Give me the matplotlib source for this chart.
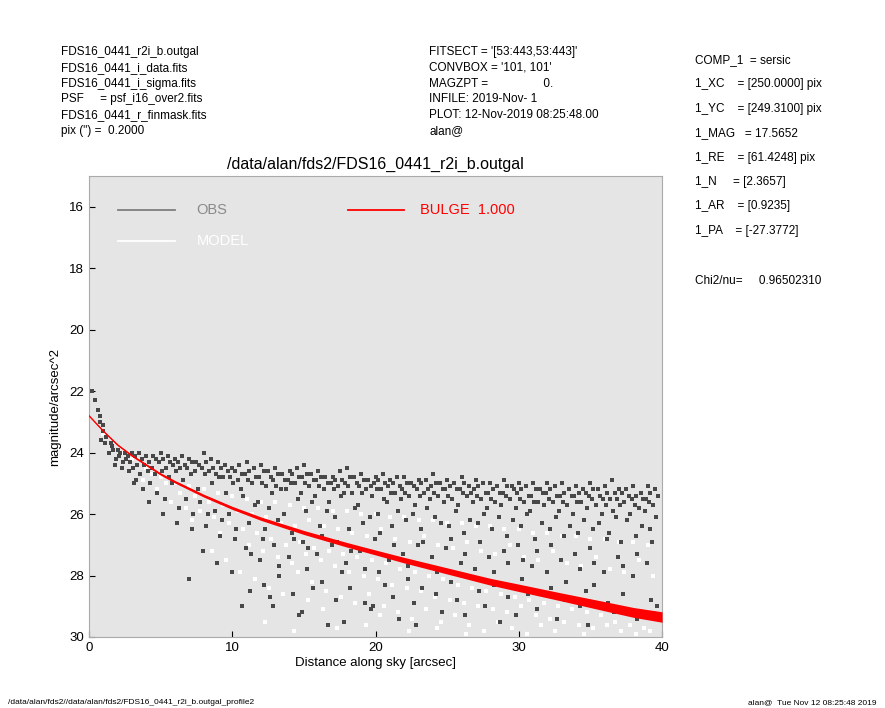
import matplotlib
matplotlib.use("Agg")
import matplotlib.pyplot as plt
import numpy as np

plt.rcParams['font.family'] = ['Liberation Sans', 'DejaVu Sans']

# Bulge (model component) profile: radius [arcsec], centre mag, half-thickness of band
bulge_r = [0, 1, 2, 3, 4, 5, 6, 8, 10, 12, 15, 18, 20, 22, 25, 28, 30, 33, 36, 38, 40]
bulge_mag = [22.8, 23.3, 23.75, 24.1, 24.4, 24.7, 24.95, 25.4, 25.8, 26.15, 26.6, 27.0,
             27.25, 27.5, 27.85, 28.2, 28.4, 28.7, 29.0, 29.2, 29.35]
bulge_hw = [0.01, 0.015, 0.02, 0.025, 0.03, 0.035, 0.04, 0.045, 0.05, 0.055, 0.065, 0.075,
            0.08, 0.09, 0.1, 0.11, 0.12, 0.13, 0.15, 0.16, 0.17]

# OBS points, grouped by radius
obs = {
    0.2: [22.0], 0.4: [22.3], 0.6: [22.6, 22.8], 0.8: [23.0, 23.1],
    1.0: [23.3, 23.5, 23.6, 23.7], 1.5: [23.7, 23.9, 24.0, 23.8],
    2.0: [23.9, 24.0, 24.2, 24.1, 24.4], 2.5: [24.0, 24.1, 24.3, 24.2, 24.5],
    3.0: [24.0, 24.1, 24.3, 24.5, 24.6, 25.0], 3.5: [24.0, 24.2, 24.4, 24.7, 24.9],
    4.0: [24.1, 24.3, 24.4, 24.6, 25.2, 25.6], 4.5: [24.1, 24.2, 24.5, 24.7, 25.0],
    5.0: [24.0, 24.2, 24.3, 24.6, 25.3, 26.0], 5.5: [24.1, 24.3, 24.5, 24.8, 25.5],
    6.0: [24.2, 24.3, 24.4, 24.6, 25.0, 26.3], 6.5: [24.1, 24.4, 24.5, 24.9, 25.8],
    7.0: [24.2, 24.3, 24.5, 24.7, 25.5, 26.5, 28.1], 7.5: [24.3, 24.4, 24.6, 25.2, 26.0],
    8.0: [24.0, 24.3, 24.5, 24.7, 25.6, 26.4, 27.2], 8.5: [24.2, 24.5, 24.6, 25.0, 26.0],
    9.0: [24.3, 24.5, 24.7, 24.8, 25.9, 26.7, 27.6], 9.5: [24.4, 24.6, 24.8, 25.3, 26.2],
    10.0: [24.5, 24.6, 24.8, 25.0, 26.0, 26.8, 27.9],
    10.5: [24.4, 24.7, 24.9, 25.2, 26.5, 29.0],
    11.0: [24.3, 24.6, 24.7, 24.9, 25.4, 26.3, 27.1, 28.5],
    11.5: [24.5, 24.8, 25.0, 25.7, 27.3],
    12.0: [24.4, 24.6, 24.8, 25.0, 25.6, 26.8, 27.5, 28.3],
    12.5: [24.6, 24.8, 25.1, 25.8, 26.5, 28.7],
    13.0: [24.5, 24.7, 24.9, 25.1, 25.3, 26.2, 27.0, 28.0, 29.0],
    13.5: [24.7, 24.9, 25.2, 26.0, 27.7],
    14.0: [24.6, 24.7, 24.9, 25.0, 25.2, 26.6, 27.4, 28.6],
    14.5: [24.5, 24.8, 25.0, 25.5, 26.8, 29.3],
    15.0: [24.4, 24.7, 24.8, 25.0, 25.3, 25.9, 26.9, 27.8, 29.2],
    15.5: [24.7, 24.9, 25.1, 25.6, 27.1, 28.4],
    16.0: [24.6, 24.8, 24.9, 25.1, 25.4, 26.4, 27.3, 28.2],
    16.5: [24.8, 25.0, 25.2, 25.9, 26.7, 29.6],
    17.0: [24.8, 24.9, 25.0, 25.2, 25.6, 26.1, 27.0, 28.8],
    17.5: [24.6, 24.9, 25.1, 25.4, 26.9, 27.9],
    18.0: [24.5, 24.8, 25.0, 25.1, 25.3, 26.5, 27.6, 28.4, 29.5],
    18.5: [24.8, 25.0, 25.3, 25.8, 27.2],
    19.0: [24.7, 24.9, 25.1, 25.3, 25.7, 26.3, 27.2, 28.9],
    19.5: [24.9, 25.1, 25.2, 26.1, 27.8, 29.1],
    20.0: [24.8, 24.9, 25.0, 25.2, 25.4, 26.0, 26.8, 27.9, 29.0],
    20.5: [24.7, 25.0, 25.2, 25.5, 26.6, 28.3],
    21.0: [24.9, 25.0, 25.1, 25.3, 25.6, 26.4, 27.5, 28.7],
    21.5: [24.8, 25.1, 25.3, 25.9, 27.0, 29.4],
    22.0: [24.8, 25.0, 25.2, 25.3, 25.5, 26.2, 27.3, 28.1],
    22.5: [25.0, 25.1, 25.4, 26.0, 27.7, 28.9],
    23.0: [24.9, 25.0, 25.2, 25.4, 25.7, 26.5, 27.0, 28.4, 29.6],
    23.5: [24.9, 25.2, 25.3, 25.8, 26.9],
    24.0: [24.7, 25.0, 25.1, 25.3, 25.5, 26.1, 27.4, 28.6],
    24.5: [25.0, 25.2, 25.4, 26.3, 27.9, 29.2],
    25.0: [24.9, 25.1, 25.2, 25.4, 25.6, 26.4, 27.1, 28.2],
    25.5: [25.0, 25.2, 25.5, 25.9, 26.8, 28.8],
    26.0: [24.8, 25.0, 25.2, 25.3, 25.7, 26.6, 27.6, 29.3],
    26.5: [25.1, 25.3, 25.4, 26.2, 27.3],
    27.0: [24.9, 25.1, 25.2, 25.4, 25.6, 26.3, 27.8, 28.5],
    27.5: [25.0, 25.3, 25.5, 26.0, 26.9, 29.0],
    28.0: [25.0, 25.2, 25.3, 25.5, 25.8, 26.5, 27.4, 28.3],
    28.5: [25.1, 25.3, 25.6, 26.1, 27.9, 29.5],
    29.0: [24.9, 25.1, 25.3, 25.4, 25.7, 26.7, 27.2, 28.7],
    29.5: [25.1, 25.2, 25.5, 26.2, 27.6],
    30.0: [25.0, 25.2, 25.3, 25.5, 25.8, 26.4, 27.0, 28.1, 29.3],
    30.5: [25.1, 25.4, 25.6, 26.0, 27.5, 28.6],
    31.0: [25.0, 25.2, 25.4, 25.6, 25.9, 26.8, 27.7, 29.1],
    31.5: [25.2, 25.3, 25.6, 26.3, 27.2],
    32.0: [25.0, 25.2, 25.3, 25.5, 25.7, 26.5, 27.9, 28.4],
    32.5: [25.1, 25.4, 25.6, 26.1, 27.0, 29.4],
    33.0: [25.0, 25.3, 25.4, 25.6, 25.9, 26.7, 27.5, 28.8],
    33.5: [25.2, 25.4, 25.7, 26.4, 28.2],
    34.0: [25.1, 25.3, 25.4, 25.6, 26.0, 26.6, 27.3, 29.0],
    34.5: [25.2, 25.3, 25.6, 26.2, 27.8, 28.5],
    35.0: [25.0, 25.2, 25.4, 25.5, 25.8, 26.5, 27.1, 28.3, 29.6],
    35.5: [25.2, 25.4, 25.7, 26.3, 27.6],
    36.0: [25.1, 25.3, 25.5, 25.7, 26.0, 26.8, 27.9, 28.9],
    36.5: [24.9, 25.3, 25.5, 25.9, 26.6, 29.2],
    37.0: [25.2, 25.3, 25.5, 25.7, 26.1, 26.9, 27.4, 28.6],
    37.5: [25.2, 25.4, 25.6, 26.2, 27.7],
    38.0: [25.1, 25.4, 25.5, 25.7, 26.0, 26.7, 28.0, 29.4],
    38.5: [25.3, 25.5, 25.8, 26.4, 27.3],
    39.0: [25.1, 25.3, 25.5, 25.6, 25.9, 26.5, 27.6, 28.8],
    39.5: [25.2, 25.4, 25.7, 26.1, 26.9, 29.0],
}

# MODEL points (white), grouped by radius
model = {
    1.0: [23.4], 2.0: [23.9, 24.0], 3.0: [24.2, 24.4], 4.0: [24.5, 24.7, 24.9],
    5.0: [24.8, 25.0, 25.2], 6.0: [25.0, 25.3, 25.6], 7.0: [25.1, 25.4, 25.8, 26.2],
    8.0: [25.2, 25.6, 25.9, 26.4], 9.0: [25.3, 25.7, 26.1, 26.6, 27.2],
    10.0: [25.4, 25.9, 26.3, 26.8, 27.5], 11.0: [25.5, 26.0, 26.5, 27.0, 27.9],
    12.0: [25.6, 26.1, 26.6, 27.2, 28.1, 29.5], 13.0: [25.6, 26.3, 26.8, 27.4, 28.4],
    14.0: [25.7, 26.4, 27.0, 27.6, 28.6, 29.8], 15.0: [25.8, 26.2, 26.9, 27.3, 27.9, 28.8],
    16.0: [25.8, 26.4, 27.1, 27.5, 28.2, 29.1], 17.0: [25.9, 26.5, 27.2, 27.7, 28.5, 29.7],
    18.0: [25.9, 26.6, 27.3, 27.9, 28.7], 19.0: [26.0, 26.7, 27.4, 28.0, 28.9, 29.6],
    20.0: [26.0, 26.5, 27.5, 28.1, 28.6, 29.3], 21.0: [26.1, 26.8, 27.6, 28.3, 29.0],
    22.0: [26.1, 26.9, 27.8, 28.4, 29.2, 29.8], 23.0: [26.2, 26.7, 27.9, 28.5, 29.4],
    24.0: [26.2, 27.0, 28.0, 28.7, 29.1, 29.7], 25.0: [26.3, 27.1, 28.1, 28.8, 29.5],
    26.0: [26.3, 26.9, 28.3, 28.9, 29.3, 29.9], 27.0: [26.4, 27.2, 28.4, 29.0, 29.6],
    28.0: [26.4, 27.3, 28.5, 29.1, 29.8], 29.0: [26.5, 27.0, 28.6, 29.2, 29.5],
    30.0: [26.5, 27.4, 28.7, 29.0, 29.7], 31.0: [26.6, 27.5, 28.8, 29.3, 29.9],
    32.0: [26.6, 27.2, 28.9, 29.4, 29.6], 33.0: [26.7, 27.6, 29.0, 29.5, 29.8],
    34.0: [26.7, 27.7, 29.1, 29.6], 35.0: [26.8, 27.4, 29.2, 29.7, 29.9],
    36.0: [26.8, 27.8, 29.3, 29.6], 37.0: [26.9, 27.9, 29.5, 29.8],
    38.0: [26.9, 27.5, 29.6, 29.9], 39.0: [27.0, 28.0, 29.7, 29.8],
}

# fixed horizontal offsets so the points don't sit on a grid
spread = [0.0, 0.31, -0.22, 0.14, -0.37, 0.26, -0.09, 0.41, -0.28]


def flatten(groups, scale):
    xs, ys = [], []
    for r, mags in groups.items():
        for i, m in enumerate(mags):
            xs.append(r + scale * spread[i % len(spread)])
            ys.append(m)
    return np.array(xs), np.array(ys)


ox, oy = flatten(obs, 0.6)
mx, my = flatten(model, 1.2)

fig = plt.figure(figsize=(8.85, 7.08), dpi=100)
ax = fig.add_axes([0.1006, 0.1003, 0.6475, 0.651])
ax.set_facecolor('#e5e5e5')

ax.scatter(mx, my, s=8, c='white', marker='s', linewidths=0, zorder=2)
ax.scatter(ox, oy, s=8, c='#484848', marker='s', linewidths=0, zorder=3)
br = np.array(bulge_r)
bm = np.array(bulge_mag)
bh = np.array(bulge_hw)
ax.fill_between(br, bm - bh, bm + bh, color='red', lw=0, zorder=4)
ax.plot(br, bm, color='red', lw=1.0, zorder=4)

ax.set_xlim(0, 40)
ax.set_ylim(30, 15)
ax.set_xticks([0, 10, 20, 30, 40])
ax.set_yticks([16, 18, 20, 22, 24, 26, 28, 30])
ax.tick_params(direction='in', length=4, labelsize=9.5)
for s in ax.spines.values():
    s.set_color('#aaaaaa')
ax.set_xlabel('Distance along sky [arcsec]', fontsize=9.5, labelpad=2)
ax.set_ylabel('magnitude/arcsec^2', fontsize=9.5, labelpad=6)
ax.set_title('/data/alan/fds2/FDS16_0441_r2i_b.outgal', fontsize=11.5, pad=5)

# legend drawn inside the axes
ax.plot([2.0, 6.0], [16.1, 16.1], color='#7f7f7f', lw=1.3)
ax.text(7.5, 16.1, 'OBS', color='#8a8a8a', fontsize=10.5, va='center')
ax.plot([2.0, 6.0], [17.1, 17.1], color='white', lw=1.3)
ax.text(7.5, 17.1, 'MODEL', color='white', fontsize=10.5, va='center')
ax.plot([18.1, 22.0], [16.1, 16.1], color='red', lw=1.3)
ax.text(23.1, 16.1, 'BULGE  1.000', color='red', fontsize=10.5, va='center')

left_txt = ["FDS16_0441_r2i_b.outgal", "FDS16_0441_i_data.fits", "FDS16_0441_i_sigma.fits",
            "PSF     = psf_i16_over2.fits", "FDS16_0441_r_finmask.fits", "pix (\") =  0.2000"]
mid_txt = ["FITSECT = '[53:443,53:443]'", "CONVBOX = '101, 101'",
           "MAGZPT =                 0.", "INFILE: 2019-Nov- 1",
           "PLOT: 12-Nov-2019 08:25:48.00", "alan@"]
for i, t in enumerate(left_txt):
    fig.text(61 / 885, 1 - (52 + i * 15.8) / 708, t, fontsize=8.5, va='center')
for i, t in enumerate(mid_txt):
    fig.text(429 / 885, 1 - (52 + i * 15.8) / 708, t, fontsize=8.5, va='center')

right_txt = ["COMP_1  = sersic", "1_XC    = [250.0000] pix", "1_YC    = [249.3100] pix",
             "1_MAG   = 17.5652", "1_RE    = [61.4248] pix", "1_N     = [2.3657]",
             "1_AR    = [0.9235]", "1_PA    = [-27.3772]"]
for i, t in enumerate(right_txt):
    fig.text(695 / 885, 1 - (60 + i * 24.4) / 708, t, fontsize=8.5, va='center')
fig.text(695 / 885, 1 - 281 / 708, "Chi2/nu=     0.96502310", fontsize=8.5, va='center')

fig.text(8 / 885, 1 - 703 / 708, "/data/alan/fds2//data/alan/fds2/FDS16_0441_r2i_b.outgal_profile2",
         fontsize=6, va='center')
fig.text(877 / 885, 1 - 703 / 708, "alan@  Tue Nov 12 08:25:48 2019", fontsize=6,
         va='center', ha='right')

fig.savefig('out.png', dpi=100)
